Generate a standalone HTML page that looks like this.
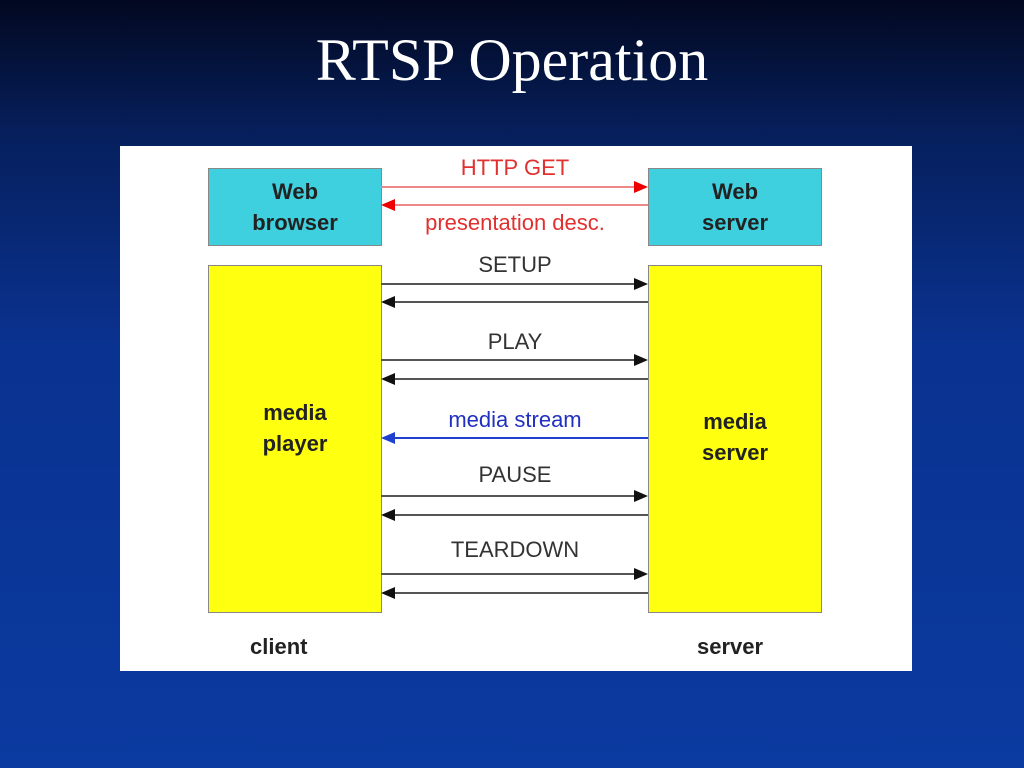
<!DOCTYPE html>
<html><head><style>
body{margin:0;width:1024px;height:768px;overflow:hidden;background:linear-gradient(180deg,#020820 0%,#06205e 18%,#0a3290 45%,#0b3aa0 100%);font-family:"Liberation Sans",sans-serif;position:relative}
.t{position:absolute;top:26px;left:0;width:1024px;text-align:center;color:#fff;font-family:"Liberation Serif",serif;font-size:60px}
.p{position:absolute;left:120px;top:146px;width:792px;height:525px;background:#fff}
.b{position:absolute;border:1px solid #888;display:flex;align-items:center;justify-content:center;text-align:center;font-weight:bold;font-size:22px;color:#222;line-height:31px}
.c{background:#3fd0e0}.y{background:#ffff10}
.l{position:absolute;font-size:22px;color:#333;text-align:center;width:268px;left:381px}
</style></head><body>
<div class="t">RTSP Operation</div>
<div class="p"></div>
<div class="b c" style="left:208px;top:168px;width:172px;height:76px">Web<br>browser</div>
<div class="b c" style="left:648px;top:168px;width:172px;height:76px">Web<br>server</div>
<div class="b y" style="left:208px;top:265px;width:172px;height:346px"><span style="position:relative;top:-11px">media<br>player</span></div>
<div class="b y" style="left:648px;top:265px;width:172px;height:346px"><span style="position:relative;top:-2px">media<br>server</span></div>
<svg style="position:absolute;left:0;top:0" width="1024" height="768">
<g stroke-width="2">
<line x1="381" y1="187" x2="636" y2="187" stroke="#e88"/><polygon points="648,187 634,181 634,193" fill="#e00"/>
<line x1="393" y1="205" x2="648" y2="205" stroke="#e88"/><polygon points="381,205 395,199 395,211" fill="#e00"/>
<line x1="393" y1="438" x2="648" y2="438" stroke="#2040d0"/><polygon points="381,438 395,432 395,444" fill="#2040d0"/>
</g>
<g stroke="#555" stroke-width="2" fill="#111">
<line x1="381" y1="284" x2="636" y2="284"/><polygon stroke="none" points="648,284 634,278 634,290"/>
<line x1="393" y1="302" x2="648" y2="302"/><polygon stroke="none" points="381,302 395,296 395,308"/>
<line x1="381" y1="360" x2="636" y2="360"/><polygon stroke="none" points="648,360 634,354 634,366"/>
<line x1="393" y1="379" x2="648" y2="379"/><polygon stroke="none" points="381,379 395,373 395,385"/>
<line x1="381" y1="496" x2="636" y2="496"/><polygon stroke="none" points="648,496 634,490 634,502"/>
<line x1="393" y1="515" x2="648" y2="515"/><polygon stroke="none" points="381,515 395,509 395,521"/>
<line x1="381" y1="574" x2="636" y2="574"/><polygon stroke="none" points="648,574 634,568 634,580"/>
<line x1="393" y1="593" x2="648" y2="593"/><polygon stroke="none" points="381,593 395,587 395,599"/>
</g></svg>
<div class="l" style="top:155px;color:#e03030">HTTP GET</div>
<div class="l" style="top:210px;color:#e03030">presentation desc.</div>
<div class="l" style="top:252px">SETUP</div>
<div class="l" style="top:329px">PLAY</div>
<div class="l" style="top:407px;color:#2030c0">media stream</div>
<div class="l" style="top:462px">PAUSE</div>
<div class="l" style="top:537px">TEARDOWN</div>
<div style="position:absolute;left:250px;top:634px;font-size:22px;font-weight:bold;color:#222">client</div>
<div style="position:absolute;left:697px;top:634px;font-size:22px;font-weight:bold;color:#222">server</div>
</body></html>
